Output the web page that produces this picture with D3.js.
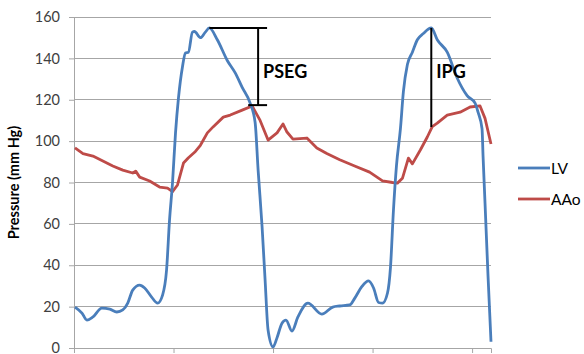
<!DOCTYPE html>
<html><head><meta charset="utf-8">
<script src="https://cdn.jsdelivr.net/npm/d3@7"></script>
<style>body{margin:0;background:#fff}svg{display:block}text{font-family:Lato,"Open Sans",sans-serif}</style>
</head><body><svg id="c" width="584" height="354"></svg>
<script>
// time index (sample units) and pressures (mm Hg)
const lvTime = [1,8,13,19,28,36,43,49,54,59,66,71,78,84,89,93,96,99,102,105,109,112,115,119,121,127,132,136,144,154,162,169,177,182,185,189,192,195,200,204,209,213,219,225,235,249,260,267,277,282,289,296,301,306,310,315,318,321,324,328,331,335,340,345,351,359,365,375,385,395,403,406,410,411,413,416,419];
const lvPressure = [19.8,16.9,13.5,15,19.3,18.8,17.4,18.4,21.7,28,30.4,29,24.6,21.7,25.6,37.7,61.9,80,104,121,136,142.6,143,152.7,153,150,152.7,154.7,149,139,133,126,118.4,109,86,58.5,33,8.7,0.5,5,12,13.5,8.2,15,21.7,16.4,19.8,20.3,20.8,24,29.5,32.4,29,22,21.7,26.6,39,66.7,88,106,124,137,143,149,152,154.7,149,143,130.5,122,118.4,114,106,93,70,35,3];
const aoTime = [1,9,19,29,39,49,59,62,66,76,86,94,99,104,110,115,122,127,134,140,150,157,169,179,187,195,204,210,214,220,234,244,254,267,282,297,310,320,325,330,336,340,348,355,360,365,375,388,398,408,413,419];
const aoPressure = [96.7,94,92.8,90.4,88,86,84.6,85.5,82.6,80.7,77.8,77.3,75.6,78.8,89.4,92,95,98,104,107,111.6,112.6,115,117,110,100.5,104,108.3,104.4,101,101.5,96.7,94,91,88,85,80.8,80,79.7,82,91.8,89,95.7,102,107,108.7,112.6,114,116.5,117,111,98.6];
const yTicks = [0,20,40,60,80,100,120,140,160];
const xTicks = [0,100,200,300,400];
const seriesNames = ["LV","AAo"];
const seriesColors = ["#4a7ebb","#be4b48"];
// annotations [x1,y1,x2,y2]
const psegLines = [[136,154.7,194,154.7],[185,154.7,185,117.4],[175,117.4,194,117.4]];
const ipgLines = [[359,154.7,359,106.8]];
const labels = [{t:"PSEG",x:190,y:130.5},{t:"IPG",x:364,y:130.5}];

const svg = d3.select("#c");
const x = d3.scaleLinear().domain([0,419]).range([74,491]);
const y = d3.scaleLinear().domain([0,160]).range([348,17]);

// gridlines
svg.append("g").selectAll("line").data(yTicks.slice(1)).join("line")
  .attr("x1",x(0)).attr("x2",x(419)).attr("y1",d=>y(d)).attr("y2",d=>y(d))
  .attr("stroke","#a6a6a6").attr("stroke-width",1).attr("shape-rendering","crispEdges");

const ya = svg.append("g").attr("transform",`translate(${x(0)},0)`)
  .call(d3.axisLeft(y).tickValues(yTicks).tickSize(5).tickPadding(9));
ya.select(".domain").attr("stroke","#a6a6a6");
ya.selectAll(".tick line").attr("stroke","#a6a6a6");
ya.selectAll("text").attr("font-size",14.5).attr("fill","#404040").style("font-family","Lato");

const xa = svg.append("g").attr("transform",`translate(0,${y(0)})`)
  .call(d3.axisBottom(x).tickValues(xTicks).tickSize(5).tickFormat(""));
xa.select(".domain").attr("stroke","#a6a6a6");
xa.selectAll(".tick line").attr("stroke","#a6a6a6");

svg.append("text").attr("transform",`translate(19,${(y(0)+y(160))/2}) rotate(-90)`)
  .attr("text-anchor","middle").attr("font-size",14.5).attr("font-weight","bold").attr("fill","#000")
  .text("Pressure (mm Hg)");

const lineLV = d3.line().x(d=>x(d[0])).y(d=>y(d[1])).curve(d3.curveMonotoneX);
const lineAo = d3.line().x(d=>x(d[0])).y(d=>y(d[1])).curve(d3.curveLinear);
const aoData = aoTime.map((t,i)=>[t,aoPressure[i]]);
const lvData = lvTime.map((t,i)=>[t,lvPressure[i]]);
svg.append("path").datum(aoData).attr("d",lineAo).attr("fill","none").attr("stroke",seriesColors[1]).attr("stroke-width",2.8).attr("stroke-linejoin","round");
svg.append("path").datum(lvData).attr("d",lineLV).attr("fill","none").attr("stroke",seriesColors[0]).attr("stroke-width",2.8).attr("stroke-linejoin","round");

svg.append("g").selectAll("line").data(psegLines.concat(ipgLines)).join("line")
  .attr("x1",d=>x(d[0])).attr("y1",d=>y(d[1])).attr("x2",d=>x(d[2])).attr("y2",d=>y(d[3]))
  .attr("stroke","#000").attr("stroke-width",2);
svg.append("g").selectAll("text").data(labels).join("text")
  .attr("x",d=>x(d.x)).attr("y",d=>y(d.y)).attr("font-size",18).attr("font-weight","bold").attr("fill","#000")
  .text(d=>d.t);

// legend
const lg = svg.append("g");
seriesNames.forEach((n,i)=>{
  const yy = 168 + i*31;
  lg.append("line").attr("x1",518).attr("x2",550).attr("y1",yy).attr("y2",yy).attr("stroke",seriesColors[i]).attr("stroke-width",2.8);
  lg.append("text").attr("x",551).attr("y",yy+6).attr("font-size",15.5).attr("fill","#000").text(n);
});
</script></body></html>
